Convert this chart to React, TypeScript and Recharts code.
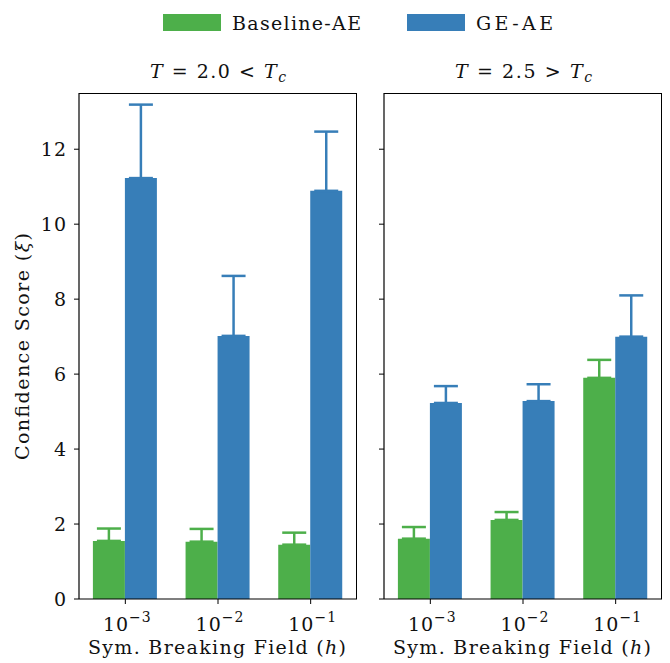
import { BarChart, Bar, XAxis, YAxis, ErrorBar } from 'recharts';

const fields = ['-3', '-2', '-1'];
const yTicks = [0, 2, 4, 6, 8, 10, 12];

// T = 2.0 < Tc
const lowBaseline = [1.55, 1.53, 1.45];
const lowBaselineErr = [0.33, 0.34, 0.32];
const lowGE = [11.23, 7.02, 10.89];
const lowGEErr = [1.96, 1.6, 1.58];

// T = 2.5 > Tc
const highBaseline = [1.61, 2.11, 5.9];
const highBaselineErr = [0.31, 0.21, 0.48];
const highGE = [5.23, 5.28, 7.0];
const highGEErr = [0.45, 0.45, 1.1];

const GREEN = '#4daf4a';
const BLUE = '#377eb8';
const FONT = "'DejaVu Serif', serif";
const FS = 19;
const txt = { fontFamily: FONT, fontSize: FS, fill: '#111' };

const build = (b: number[], be: number[], g: number[], ge: number[]) =>
  fields.map((f, i) => ({ field: f, base: b[i], baseErr: [0, be[i]], ge: g[i], geErr: [0, ge[i]] }));

const lowData = build(lowBaseline, lowBaselineErr, lowGE, lowGEErr);
const highData = build(highBaseline, highBaselineErr, highGE, highGEErr);

const PowTick = ({ x, y, payload }: any) => (
  <text x={x + 2} y={y + 25} textAnchor="middle" style={txt} letterSpacing={1}>
    10<tspan dy={-9} style={{ fontSize: 14 }}>{'\u2212' + payload.value.slice(1)}</tspan>
  </text>
);

const NumTick = ({ x, y, payload }: any) => (
  <text x={x - 5} y={y + 7} textAnchor="end" style={txt} letterSpacing={1}>
    {payload.value}
  </text>
);

function Panel({ data, labels }: { data: any[]; labels: boolean }) {
  const w = labels ? 360 : 310;
  return (
    <BarChart
      width={w}
      height={663}
      data={data}
      margin={{ top: 93, right: labels ? 3 : 8, left: labels ? 39 : 0, bottom: 4 }}
      barCategoryGap="15%"
      barGap={0}
    >
      <XAxis dataKey="field" height={60} tick={<PowTick />} tickSize={5}
        axisLine={{ stroke: '#000', strokeWidth: 1.2 }} tickLine={{ stroke: '#000' }} interval={0} />
      <YAxis domain={[0, 13.5]} ticks={yTicks} width={labels ? 40 : 24} tickSize={5}
        tick={labels ? <NumTick /> : () => <g />} axisLine={{ stroke: '#000', strokeWidth: 1.2 }}
        tickLine={{ stroke: '#000' }} allowDataOverflow />
      <Bar dataKey="base" fill={GREEN} isAnimationActive={false}>
        <ErrorBar dataKey="baseErr" direction="y" width={12} stroke={GREEN} strokeWidth={2.5} />
      </Bar>
      <Bar dataKey="ge" fill={BLUE} isAnimationActive={false}>
        <ErrorBar dataKey="geErr" direction="y" width={12} stroke={BLUE} strokeWidth={2.5} />
      </Bar>
    </BarChart>
  );
}

const frame = (left: number) => ({
  position: 'absolute' as const, left, top: 93, width: 278, height: 506,
  borderTop: '1.2px solid #000', borderRight: '1.2px solid #000', boxSizing: 'border-box' as const,
  pointerEvents: 'none' as const,
});

export default function App() {
  return (
    <div style={{ position: 'absolute', left: 0, top: 0, width: 670, height: 663, background: '#fff' }}>
      <div style={{ position: 'absolute', left: 0, top: 0 }}>
        <Panel data={lowData} labels />
      </div>
      <div style={{ position: 'absolute', left: 360, top: 0 }}>
        <Panel data={highData} labels={false} />
      </div>
      <div style={frame(79)} />
      <div style={frame(384)} />
      <svg width={670} height={663} style={{ position: 'absolute', left: 0, top: 0, pointerEvents: 'none' }}>
        <rect x={163} y={14} width={58} height={17} fill={GREEN} />
        <text x={232} y={30} style={txt} textLength={129}>Baseline-AE</text>
        <rect x={407} y={14} width={58} height={17} fill={BLUE} />
        <text x={476} y={30} style={txt} textLength={77}>GE-AE</text>

        <text x={150} y={78} style={txt} textLength={136}>
          <tspan fontStyle="italic">T</tspan> = 2.0 &lt; <tspan fontStyle="italic">T</tspan>
          <tspan fontStyle="italic" style={{ fontSize: 14 }} dy={4}>c</tspan>
        </text>
        <text x={455} y={78} style={txt} textLength={137}>
          <tspan fontStyle="italic">T</tspan> = 2.5 &gt; <tspan fontStyle="italic">T</tspan>
          <tspan fontStyle="italic" style={{ fontSize: 14 }} dy={4}>c</tspan>
        </text>

        <text x={88} y={654} style={txt} textLength={258}>
          Sym. Breaking Field (<tspan fontStyle="italic">h</tspan>)
        </text>
        <text x={393} y={654} style={txt} textLength={258}>
          Sym. Breaking Field (<tspan fontStyle="italic">h</tspan>)
        </text>

        <text x={29} y={460} transform="rotate(-90 29 460)" style={txt} textLength={227}>
          Confidence Score (<tspan fontStyle="italic">ξ</tspan>)
        </text>
      </svg>
    </div>
  );
}
